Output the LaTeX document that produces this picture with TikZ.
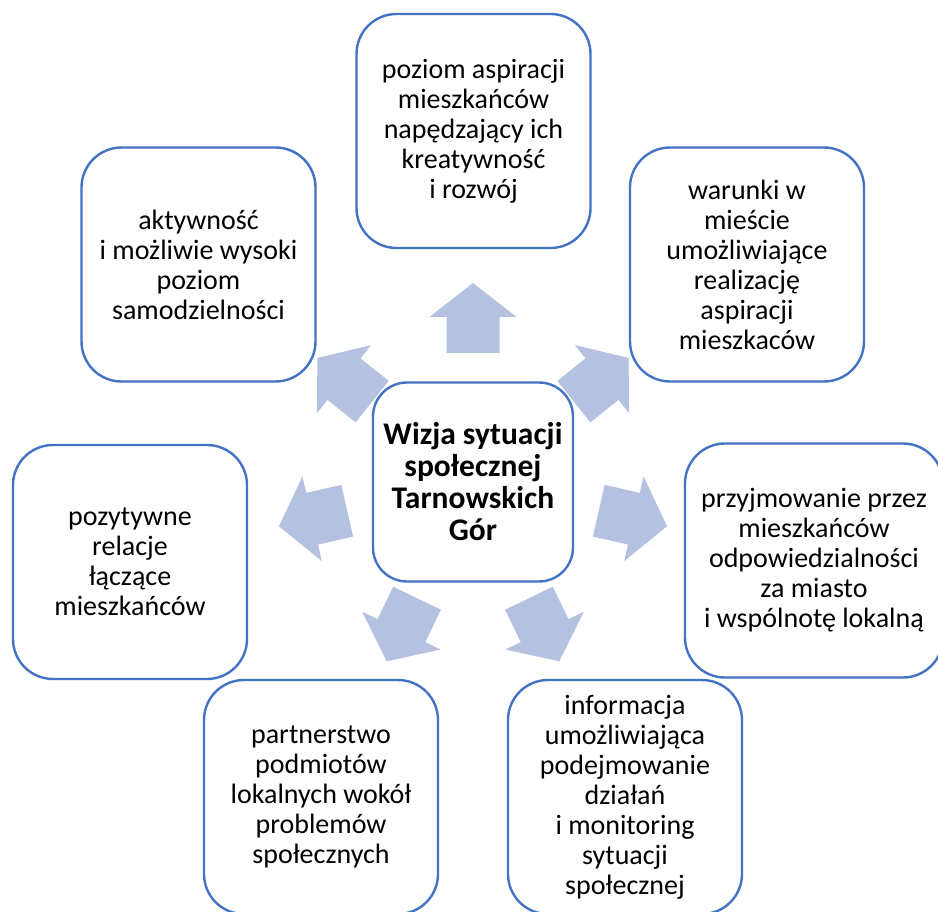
\documentclass[tikz,border=0pt]{standalone}
\usepackage{fontspec}
\setmainfont{Carlito}
\definecolor{boxline}{HTML}{4472C4}
\definecolor{arrowfill}{HTML}{B4C1E1}
\tikzset{
  vbox/.style={draw=boxline, line width=2.4pt, fill=white, rounded corners=40pt,
    minimum width=234pt, minimum height=234pt, align=center, inner sep=2pt,
    font=\fontsize{28}{30}\selectfont, text=black},
  centerbox/.style={vbox, minimum width=200pt, minimum height=199pt, rounded corners=34pt,
    font=\fontsize{31.5}{32}\selectfont\bfseries},
  blockarrow/.style={fill=arrowfill, draw=none}
}
\newcommand{\blockarr}[1]{%
  \begin{scope}[shift={(473,482)}, rotate=#1]
    \fill[blockarrow] (129,-26.5) -- (165,-26.5) -- (165,-43.5) -- (199,0) -- (165,43.5) -- (165,26.5) -- (129,26.5) -- cycle;
  \end{scope}}
\begin{document}
\begin{tikzpicture}[x=1pt,y=-1pt]
\useasboundingbox (0,0) rectangle (938,912);
\clip (0,0) rectangle (938,912);
\fill[white] (0,0) rectangle (938,912);
\blockarr{90}
\blockarr{38.57}
\blockarr{-12.86}
\blockarr{-64.29}
\blockarr{-115.71}
\blockarr{-167.14}
\blockarr{141.43}
\node[centerbox] (c) at (473,482) {Wizja sytuacji\\społecznej\\Tarnowskich\\Gór};
\node[vbox] (t) at (473.5,131) {poziom aspiracji\\mieszkańców\\napędzający ich\\kreatywność\\i rozwój};
\node[vbox] (tr) at (747,264.5) {warunki w\\mieście\\umożliwiające\\realizację\\aspiracji\\mieszkaców};
\node[vbox, minimum width=258pt] (r) at (814,560.5) {przyjmowanie przez\\mieszkańców\\odpowiedzialności\\za miasto\\i wspólnotę lokalną};
\node[vbox] (br) at (625,797) {informacja\\umożliwiająca\\podejmowanie\\działań\\i monitoring\\sytuacji\\społecznej};
\node[vbox] (bl) at (321,797) {partnerstwo\\podmiotów\\lokalnych wokół\\problemów\\społecznych};
\node[vbox] (l) at (130,562) {pozytywne\\relacje\\łączące\\mieszkańców};
\node[vbox] (tl) at (198.5,264.5) {aktywność\\i możliwie wysoki\\poziom\\samodzielności};
\end{tikzpicture}
\end{document}
